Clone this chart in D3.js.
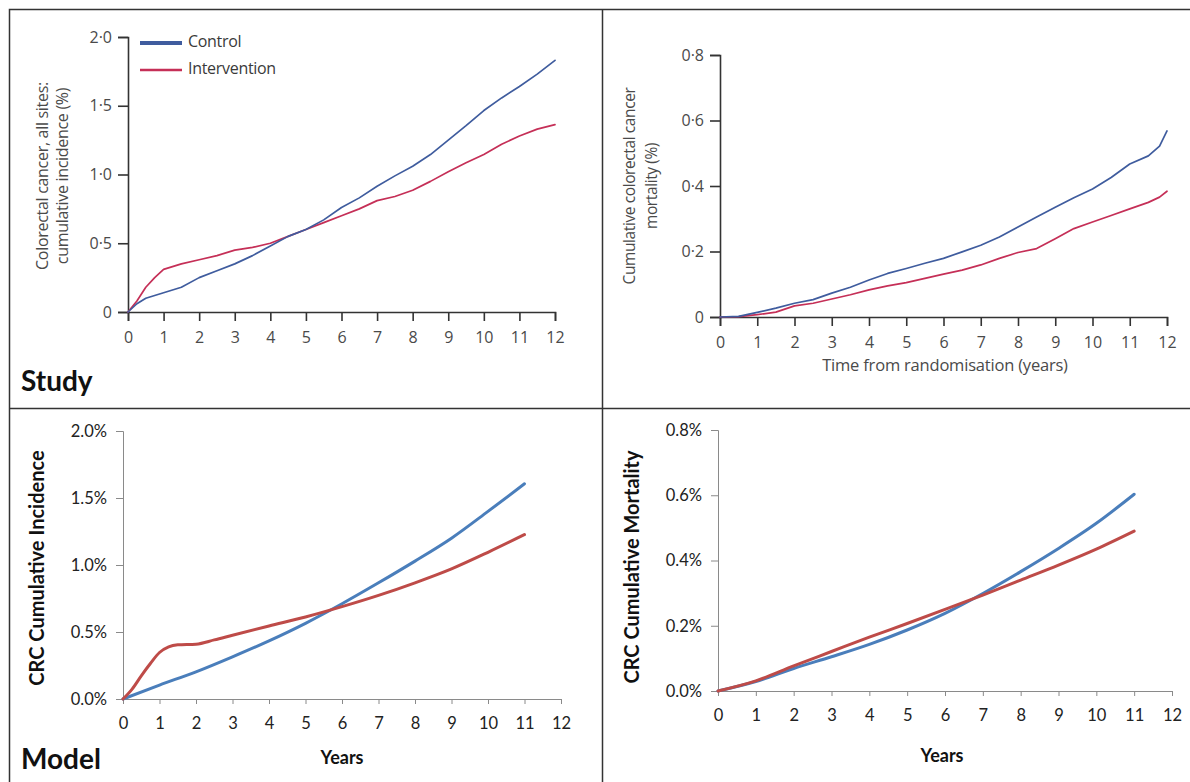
<!DOCTYPE html>
<html>
<head>
<meta charset="utf-8">
<script src="https://cdn.jsdelivr.net/npm/d3@7"></script>
<style>
  body { margin: 0; background: #fff; }
  svg { display: block; }
</style>
</head>
<body>
<svg id="chart" width="1190" height="782"></svg>
<script>
// ---- Data (cumulative %, by years since randomisation) ----
const yearTicks = [0, 1, 2, 3, 4, 5, 6, 7, 8, 9, 10, 11, 12];

// Study: colorectal cancer incidence
const studyIncTime = [0, 0.25, 0.5, 0.75, 1, 1.5, 2, 2.5, 3, 3.5, 4, 4.5, 5, 5.5, 6, 6.5, 7, 7.5, 8, 8.5, 9, 9.5, 10, 10.5, 11, 11.5, 12];
const studyIncControl = [0, 0.06, 0.10, 0.12, 0.14, 0.18, 0.25, 0.30, 0.35, 0.41, 0.48, 0.55, 0.60, 0.67, 0.76, 0.83, 0.915, 0.99, 1.06, 1.145, 1.25, 1.355, 1.465, 1.557, 1.64, 1.73, 1.83];
const studyIncIntervention = [0, 0.08, 0.18, 0.25, 0.31, 0.35, 0.38, 0.41, 0.45, 0.47, 0.50, 0.55, 0.60, 0.65, 0.70, 0.75, 0.81, 0.84, 0.885, 0.95, 1.02, 1.085, 1.145, 1.22, 1.28, 1.33, 1.363];
const studyIncTicks = [0, 0.5, 1, 1.5, 2];

// Study: colorectal cancer mortality
const studyMortTime = [0, 0.5, 1, 1.5, 2, 2.5, 3, 3.5, 4, 4.5, 5, 5.5, 6, 6.5, 7, 7.5, 8, 8.5, 9, 9.5, 10, 10.5, 11, 11.5, 11.8, 12];
const studyMortControl = [0, 0.002, 0.014, 0.027, 0.042, 0.053, 0.073, 0.091, 0.113, 0.133, 0.148, 0.164, 0.179, 0.199, 0.219, 0.244, 0.275, 0.305, 0.335, 0.364, 0.391, 0.426, 0.467, 0.492, 0.522, 0.568];
const studyMortIntervention = [0, 0.001, 0.007, 0.015, 0.034, 0.042, 0.055, 0.068, 0.083, 0.095, 0.105, 0.118, 0.131, 0.143, 0.159, 0.179, 0.197, 0.209, 0.239, 0.27, 0.29, 0.31, 0.33, 0.35, 0.366, 0.384];
const studyMortTicks = [0, 0.2, 0.4, 0.6, 0.8];

// Model: CRC cumulative incidence
const modelIncControlTime = [0, 1, 2, 3, 4, 5, 6, 7, 8, 9, 10, 11];
const modelIncControl = [0, 0.104, 0.203, 0.315, 0.434, 0.565, 0.711, 0.867, 1.029, 1.20, 1.40, 1.606];
const modelIncInterventionTime = [0, 0.25, 0.5, 0.75, 1, 1.25, 1.5, 2, 2.5, 3, 4, 5, 6, 7, 8, 9, 10, 11];
const modelIncIntervention = [0, 0.074, 0.173, 0.265, 0.347, 0.389, 0.404, 0.409, 0.441, 0.476, 0.545, 0.612, 0.689, 0.773, 0.867, 0.971, 1.095, 1.227];
const modelIncTicks = [0, 0.5, 1.0, 1.5, 2.0];

// Model: CRC cumulative mortality
const modelMortTime = [0, 1, 2, 3, 4, 5, 6, 7, 8, 9, 10, 11];
const modelMortControl = [0, 0.029, 0.069, 0.105, 0.143, 0.187, 0.238, 0.299, 0.366, 0.437, 0.514, 0.603];
const modelMortIntervention = [0, 0.031, 0.077, 0.121, 0.165, 0.207, 0.250, 0.294, 0.340, 0.386, 0.435, 0.490];
const modelMortTicks = [0, 0.2, 0.4, 0.6, 0.8];

const seriesNames = ["Control", "Intervention"];

// ---- Styles ----
const studyBlue = "#3f5c9e", studyRed = "#c52f57";
const modelBlue = "#4a7ebb", modelRed = "#be4b48";
const studyFont = "'Open Sans', 'DejaVu Sans', sans-serif";
const modelFont = "Lato, 'Open Sans', sans-serif";
const studyText = "#4a4a4a";

const svg = d3.select("#chart");

// Panel frame
svg.append("path")
  .attr("d", "M9.5,782 V9.5 H1190 M602.5,9.5 V782 M9.5,408.5 H1190")
  .attr("fill", "none").attr("stroke", "#333").attr("stroke-width", 1.5);

const zip = (t, v) => t.map((d, i) => [d, v[i]]);
const dotFormat = d => d === 0 ? "0" : d3.format(".1f")(d).replace(".", "\u00b7");
const pctFormat = d => d3.format(".1f")(d) + "%";

function styleStudyAxis(g) {
  g.select(".domain").attr("stroke", "#333").attr("stroke-width", 1.6);
  g.selectAll(".tick line").attr("stroke", "#333").attr("stroke-width", 1.6);
  g.selectAll(".tick text").attr("fill", studyText).style("font-family", studyFont).style("font-size", "16px");
}
function styleModelAxis(g) {
  g.select(".domain").attr("stroke", "#8a8a8a").attr("stroke-width", 1);
  g.selectAll(".tick line").attr("stroke", "#8a8a8a").attr("stroke-width", 1);
  g.selectAll(".tick text").attr("fill", "#222").style("font-family", modelFont).style("font-size", "16.5px");
}

function drawPanel(cfg) {
  const x = d3.scaleLinear().domain([0, 12]).range(cfg.xRange);
  const y = d3.scaleLinear().domain(cfg.yDomain).range(cfg.yRange);
  const g = svg.append("g");
  const study = cfg.kind === "study";

  g.append("g").attr("transform", `translate(0,${cfg.yRange[0]})`)
    .call(d3.axisBottom(x).tickValues(yearTicks).tickSizeOuter(0)
      .tickSize(study ? 9 : 5).tickPadding(study ? 11 : 13))
    .call(study ? styleStudyAxis : styleModelAxis);

  g.append("g").attr("transform", `translate(${cfg.xRange[0]},0)`)
    .call(d3.axisLeft(y).tickValues(cfg.yTicks).tickFormat(study ? dotFormat : pctFormat)
      .tickSizeOuter(0).tickSize(study ? 10 : 7).tickPadding(study ? 6 : 9))
    .call(study ? styleStudyAxis : styleModelAxis);

  const line = d3.line().x(d => x(d[0])).y(d => y(d[1]))
    .curve(study ? d3.curveLinear : d3.curveMonotoneX);

  cfg.series.forEach(s => {
    g.append("path").datum(s.points)
      .attr("fill", "none").attr("stroke", s.color)
      .attr("stroke-width", study ? 1.7 : 3)
      .attr("stroke-linejoin", "round").attr("stroke-linecap", "round")
      .attr("d", line);
  });
  return { x, y, g };
}

// ---- Study: incidence ----
drawPanel({
  kind: "study", xRange: [128, 555], yRange: [312, 37], yDomain: [0, 2], yTicks: studyIncTicks,
  series: [
    { color: studyRed, points: zip(studyIncTime, studyIncIntervention) },
    { color: studyBlue, points: zip(studyIncTime, studyIncControl) }
  ]
});
[["Colorectal cancer, all sites:", 44], ["cumulative incidence (%)", 64]].forEach(([t, cx]) => {
  svg.append("text").attr("transform", `translate(${cx},176) rotate(-90)`)
    .attr("text-anchor", "middle").attr("dominant-baseline", "middle")
    .attr("fill", studyText).style("font-family", studyFont).style("font-size", "16px")
    .style("letter-spacing", "-0.3px").text(t);
});
// legend
const legend = [[seriesNames[0], studyBlue, 4, 43], [seriesNames[1], studyRed, 2.5, 70]];
legend.forEach(([name, col, w, ly]) => {
  svg.append("line").attr("x1", 140).attr("x2", 182).attr("y1", ly).attr("y2", ly)
    .attr("stroke", col).attr("stroke-width", w);
  svg.append("text").attr("x", 188).attr("y", ly).attr("dominant-baseline", "middle")
    .attr("fill", "#3a3a3a").style("font-family", studyFont).style("font-size", "16px")
    .style("letter-spacing", "-0.3px").text(name);
});
svg.append("text").attr("x", 21).attr("y", 391).attr("fill", "#111")
  .style("font-family", modelFont).style("font-weight", "bold").style("font-size", "28px").text("Study");

// ---- Study: mortality ----
drawPanel({
  kind: "study", xRange: [720, 1167], yRange: [317, 55], yDomain: [0, 0.8], yTicks: studyMortTicks,
  series: [
    { color: studyRed, points: zip(studyMortTime, studyMortIntervention) },
    { color: studyBlue, points: zip(studyMortTime, studyMortControl) }
  ]
});
[["Cumulative colorectal cancer", 631], ["mortality (%)", 653]].forEach(([t, cx]) => {
  svg.append("text").attr("transform", `translate(${cx},186) rotate(-90)`)
    .attr("text-anchor", "middle").attr("dominant-baseline", "middle")
    .attr("fill", studyText).style("font-family", studyFont).style("font-size", "15.5px")
    .style("letter-spacing", "-0.4px").text(t);
});
svg.append("text").attr("x", 945).attr("y", 371).attr("text-anchor", "middle")
  .attr("fill", studyText).style("font-family", studyFont).style("font-size", "16.5px")
  .style("letter-spacing", "-0.2px")
  .text("Time from randomisation (years)");

// ---- Model: incidence ----
drawPanel({
  kind: "model", xRange: [123, 561], yRange: [699, 431], yDomain: [0, 2], yTicks: modelIncTicks,
  series: [
    { color: modelBlue, points: zip(modelIncControlTime, modelIncControl) },
    { color: modelRed, points: zip(modelIncInterventionTime, modelIncIntervention) }
  ]
});
svg.append("text").attr("transform", "translate(39,568) rotate(-90)")
  .attr("text-anchor", "middle").attr("dominant-baseline", "middle")
  .attr("fill", "#111").style("font-family", modelFont).style("font-weight", "bold").style("font-size", "20px")
  .text("CRC Cumulative Incidence");
svg.append("text").attr("x", 342).attr("y", 764).attr("text-anchor", "middle")
  .attr("fill", "#111").style("font-family", modelFont).style("font-weight", "bold").style("font-size", "18px").text("Years");
svg.append("text").attr("x", 21).attr("y", 769).attr("fill", "#111")
  .style("font-family", modelFont).style("font-weight", "bold").style("font-size", "28px").text("Model");

// ---- Model: mortality ----
drawPanel({
  kind: "model", xRange: [718, 1172], yRange: [691, 430], yDomain: [0, 0.8], yTicks: modelMortTicks,
  series: [
    { color: modelBlue, points: zip(modelMortTime, modelMortControl) },
    { color: modelRed, points: zip(modelMortTime, modelMortIntervention) }
  ]
});
svg.append("text").attr("transform", "translate(634,567) rotate(-90)")
  .attr("text-anchor", "middle").attr("dominant-baseline", "middle")
  .attr("fill", "#111").style("font-family", modelFont).style("font-weight", "bold").style("font-size", "20px")
  .text("CRC Cumulative Mortality");
svg.append("text").attr("x", 942).attr("y", 762).attr("text-anchor", "middle")
  .attr("fill", "#111").style("font-family", modelFont).style("font-weight", "bold").style("font-size", "18px").text("Years");
</script>
</body>
</html>
